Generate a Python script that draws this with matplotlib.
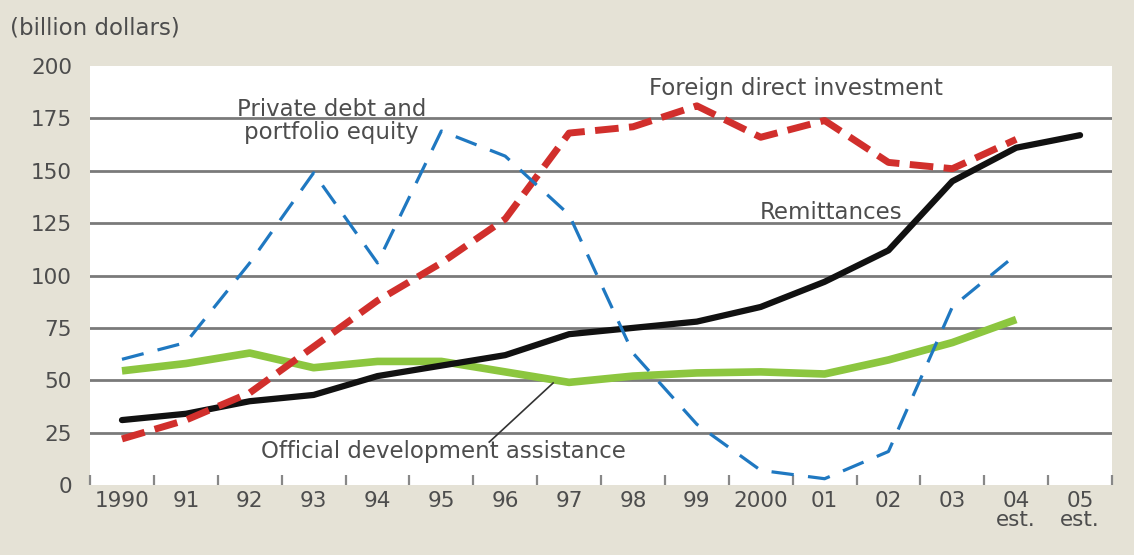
import matplotlib
matplotlib.use("Agg")
import matplotlib.pyplot as plt
from matplotlib.ticker import FixedLocator

plt.rcParams['font.family'] = ['DejaVu Sans']

# ---- data (billion dollars) ----
years = list(range(1990, 2006))
year_labels = ["1990", "91", "92", "93", "94", "95", "96", "97", "98", "99",
               "2000", "01", "02", "03", "04\nest.", "05\nest."]
remittances = [31, 34, 40, 43, 52, 57, 62, 72, 75, 78, 85, 97, 112, 145, 161, 167]
fdi = [22, 31, 44, 66, 88, 106, 127, 168, 171, 181, 166, 174, 154, 151, 165]
private_debt = [60, 68, 106, 149, 106, 169, 157, 129, 63, 29, 7, 3, 16, 85, 110]
oda = [54.5, 58, 63, 56, 59, 59, 54, 49, 52, 53.5, 54, 53, 59.7, 68, 79]
y_ticks = [0, 25, 50, 75, 100, 125, 150, 175, 200]

BG = "#e5e2d6"
TXT = "#4d4d4d"

fig = plt.figure(figsize=(11.34, 5.55), dpi=100, facecolor=BG)
ax = fig.add_axes([0.0794, 0.1261, 0.9012, 0.7549])
ax.set_facecolor("white")

ax.plot(years[:len(oda)], oda, color="#8cc63f", lw=5.5,
        solid_capstyle="butt", solid_joinstyle="round", zorder=3)
ax.plot(years, remittances, color="#111111", lw=4.5,
        solid_capstyle="round", solid_joinstyle="round", zorder=4)
ax.plot(years[:len(fdi)], fdi, color="#d12f2c", lw=5.0,
        linestyle=(0, (3.4, 1.5)), dash_capstyle="butt", zorder=5)
ax.plot(years[:len(private_debt)], private_debt, color="#1f78c1", lw=2.3,
        linestyle=(0, (7, 4.5)), dash_capstyle="butt", zorder=6)

ax.set_xlim(1989.5, 2005.5)
ax.set_ylim(0, 200)

for s in ax.spines.values():
    s.set_visible(False)

ax.set_yticks(y_ticks)
ax.set_yticklabels([str(v) for v in y_ticks])
ax.tick_params(axis="y", length=0, pad=13, labelsize=15.5, labelcolor=TXT)

ax.set_xticks(years)
ax.set_xticklabels(year_labels, linespacing=0.95)
ax.xaxis.set_minor_locator(FixedLocator([y - 0.5 for y in years] + [years[-1] + 0.5]))
ax.tick_params(axis="x", which="major", length=0, pad=4, labelsize=15.5, labelcolor=TXT)
ax.tick_params(axis="x", which="minor", direction="in", length=7, width=1.6, color="#888888")

ax.set_axisbelow(True)
ax.grid(axis="y", color="#7a7a7a", lw=2.0)
ax.grid(axis="x", visible=False)
gl = ax.yaxis.get_gridlines()
gl[0].set_visible(False)
gl[-1].set_visible(False)

fs = 16.5
ax.text(1993.28, 173.7, "Private debt and\nportfolio equity", ha="center", va="center",
        fontsize=fs, color=TXT, linespacing=1.0, zorder=7)
ax.text(2000.55, 189.5, "Foreign direct investment", ha="center", va="center",
        fontsize=fs, color=TXT, zorder=7)
ax.text(2001.1, 130.3, "Remittances", ha="center", va="center",
        fontsize=fs, color=TXT, zorder=7)
ax.text(1995.03, 15.8, "Official development assistance", ha="center", va="center",
        fontsize=fs, color=TXT, zorder=7)
ax.plot([1995.75, 1996.75], [20.5, 48.7], color="#333333", lw=1.2, zorder=7)

fig.text(10 / 1134, 1 - 28 / 555, "(billion dollars)", ha="left", va="center",
         fontsize=fs, color=TXT)

fig.savefig("out.png", dpi=100, facecolor=BG)
